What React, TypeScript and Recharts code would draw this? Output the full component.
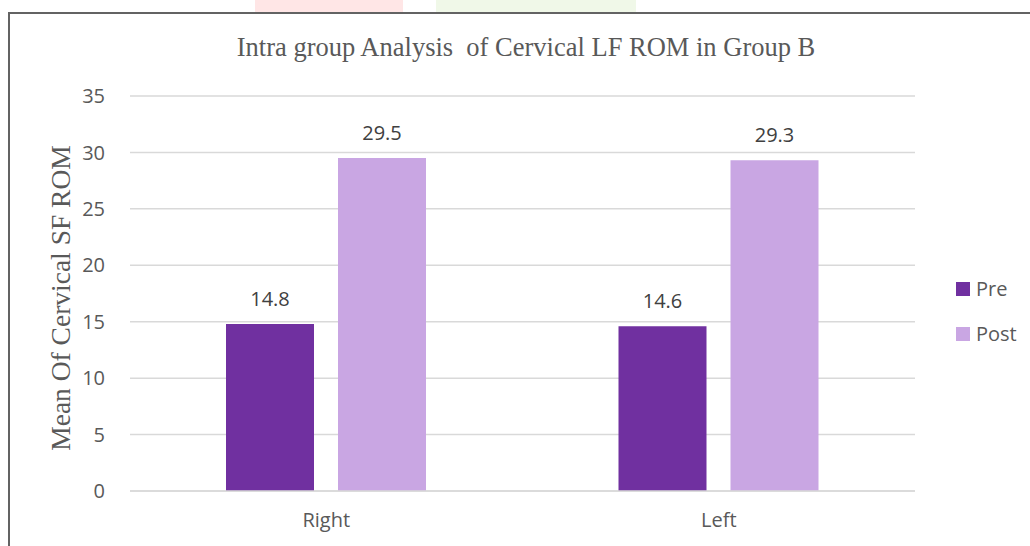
import React from 'react';
import { BarChart, Bar, XAxis, YAxis, CartesianGrid, Legend, LabelList } from 'recharts';

const categories = ['Right', 'Left'];
const preValues = [14.8, 14.6];
const postValues = [29.5, 29.3];
const yTicks = [0, 5, 10, 15, 20, 25, 30, 35];

const PRE = '#7030a0';
const POST = '#c9a6e3';
const TEXT = '#595959';
const SANS = '"Open Sans", sans-serif';
const SERIF = '"Liberation Serif", "Times New Roman", serif';

const data = categories.map((c, i) => ({ name: c, pre: preValues[i], post: postValues[i] }));

function LegendBox() {
  const items = [
    { label: 'Pre', color: PRE },
    { label: 'Post', color: POST },
  ];
  return (
    <div style={{ fontFamily: SANS, fontSize: 20, color: TEXT }}>
      {items.map((it) => (
        <div key={it.label} style={{ display: 'flex', alignItems: 'center', height: 45 }}>
          <span style={{ width: 14, height: 14, background: it.color, marginRight: 6 }} />
          <span>{it.label}</span>
        </div>
      ))}
    </div>
  );
}

export default function App() {
  return (
    <div style={{ position: 'absolute', left: 0, top: 0, width: 1030, height: 546, background: '#fff', overflow: 'hidden' }}>
      {/* faint watermark bits above the frame */}
      <div style={{ position: 'absolute', left: 255, top: 0, width: 148, height: 12, background: '#ffe6e6' }} />
      <div style={{ position: 'absolute', left: 436, top: 0, width: 200, height: 12, background: '#f0f8e8' }} />
      {/* frame */}
      <div style={{ position: 'absolute', left: 8, top: 12, width: 1030, height: 540, borderLeft: '2px solid #636363', borderTop: '2px solid #636363' }} />
      <div
        style={{
          position: 'absolute',
          left: 0,
          width: 1052,
          top: 32,
          textAlign: 'center',
          fontFamily: SERIF,
          fontSize: 26.5,
          color: TEXT,
        }}
      >
        Intra group Analysis&nbsp; of Cervical LF ROM in Group B
      </div>
      <div
        style={{
          position: 'absolute',
          left: 61,
          top: 298,
          transform: 'translate(-50%, -50%) rotate(-90deg)',
          whiteSpace: 'nowrap',
          fontFamily: SERIF,
          fontSize: 27.5,
          color: TEXT,
        }}
      >
        Mean Of Cervical SF ROM
      </div>
      <BarChart
        width={1030}
        height={546}
        data={data}
        margin={{ top: 96, right: 115, left: 0, bottom: 15 }}
        barGap={24}
        barSize={88}
        style={{ position: 'absolute', left: 0, top: 0 }}
      >
        <CartesianGrid vertical={false} stroke="#d9d9d9" strokeWidth={1.5} />
        <XAxis
          dataKey="name"
          height={40}
          axisLine={{ stroke: '#d9d9d9', strokeWidth: 1.5 }}
          tickLine={false}
          tickMargin={16}
          tick={{ fill: TEXT, fontSize: 20, fontFamily: SANS }}
        />
        <YAxis
          width={130}
          domain={[0, 35]}
          ticks={yTicks}
          axisLine={false}
          tickLine={false}
          tickMargin={19}
          tick={{ fill: TEXT, fontSize: 20, fontFamily: SANS }}
        />
        <Legend
          layout="vertical"
          align="center"
          verticalAlign="middle"
          content={() => <LegendBox />}
          wrapperStyle={{ left: 956, top: 266, width: 80 }}
        />
        <Bar dataKey="pre" name="Pre" fill={PRE} isAnimationActive={false}>
          <LabelList dataKey="pre" position="top" offset={18} fill="#404040" fontSize={20} fontFamily={SANS} />
        </Bar>
        <Bar dataKey="post" name="Post" fill={POST} isAnimationActive={false}>
          <LabelList dataKey="post" position="top" offset={18} fill="#404040" fontSize={20} fontFamily={SANS} />
        </Bar>
      </BarChart>
    </div>
  );
}
